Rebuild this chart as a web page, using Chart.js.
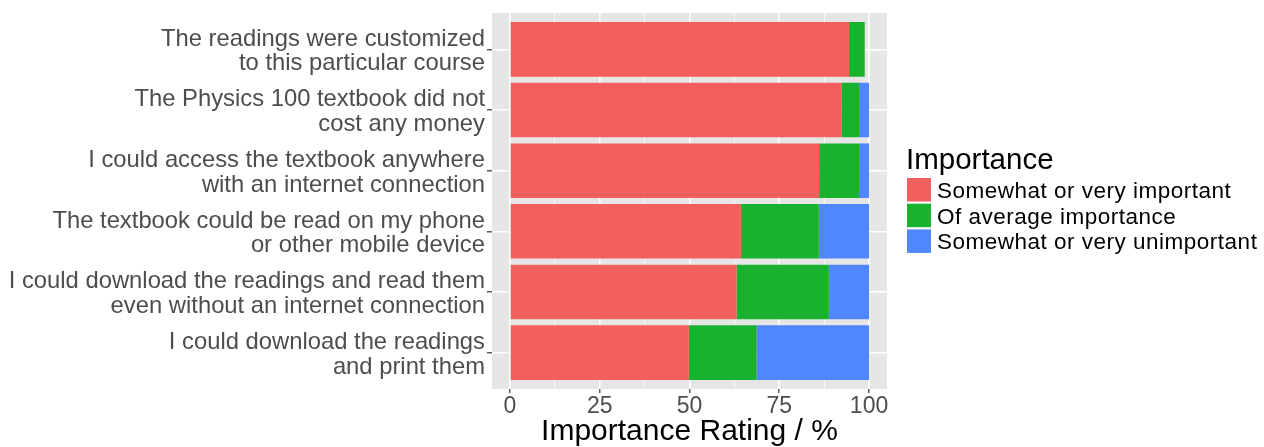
<!DOCTYPE html>
<html>
<head>
<meta charset="utf-8">
<script src="https://cdn.jsdelivr.net/npm/chart.js@4/dist/chart.umd.min.js"></script>
<style>
  html, body { margin: 0; padding: 0; background: #ffffff; }
  #wrap { position: relative; width: 1264px; height: 447px; }
</style>
</head>
<body>
<div id="wrap"><canvas id="c" width="1264" height="447"></canvas></div>
<script>
// ---- data (top to bottom as displayed) ----
const categories = [
  ["The readings were customized", "to this particular course"],
  ["The Physics 100 textbook did not", "cost any money"],
  ["I could access the textbook anywhere", "with an internet connection"],
  ["The textbook could be read on my phone", "or other mobile device"],
  ["I could download the readings and read them", "even without an internet connection"],
  ["I could download the readings", "and print them"]
];
const seriesNames = ["Somewhat or very important", "Of average importance", "Somewhat or very unimportant"];
const important   = [94.4, 92.3, 86.1, 64.3, 63.1, 49.8];
const average     = [4.4, 4.9, 11.1, 21.7, 25.7, 18.9];
const unimportant = [0.0, 2.8, 2.8, 14.0, 11.2, 31.3];
const xTicks = [0, 12.5, 25, 37.5, 50, 62.5, 75, 87.5, 100];
const xTickLabels = ["0", "", "25", "", "50", "", "75", "", "100"];
const legendTitle = "Importance";
const axisTitle = "Importance Rating / %";

const colors = ["#F25F5C", "#19B22F", "#5087FF"];
const seriesValues = [important, average, unimportant];

const FONT = "'Liberation Sans', Arial, Helvetica, sans-serif";

const datasets = seriesValues.map((vals, s) => ({
  label: seriesNames[s],
  data: vals.map((v, i) => ({ x: v, y: i + 1 })),
  backgroundColor: colors[s],
  borderWidth: 0,
  barPercentage: 0.9,
  categoryPercentage: 1.0
}));

const legendPlugin = {
  id: 'ggLegend',
  afterDraw(chart) {
    const ctx = chart.ctx;
    ctx.save();
    ctx.fillStyle = '#000000';
    ctx.textAlign = 'left';
    ctx.textBaseline = 'alphabetic';
    ctx.font = "29.5px " + FONT;
    ctx.fillText(legendTitle, 906, 168.5);
    for (let i = 0; i < seriesNames.length; i++) {
      const y = 178 + i * 25.7;
      ctx.fillStyle = colors[i];
      ctx.fillRect(907, y, 24, 23.5);
      ctx.fillStyle = '#000000';
      ctx.font = "22.5px " + FONT;
      if ('letterSpacing' in ctx) ctx.letterSpacing = '0.5px';
      ctx.fillText(seriesNames[i], 937, y + 20);
      if ('letterSpacing' in ctx) ctx.letterSpacing = '0px';
    }
    ctx.restore();
  }
};

const panelPlugin = {
  id: 'panelBg',
  beforeDraw(chart) {
    const a = chart.chartArea;
    const ctx = chart.ctx;
    ctx.save();
    ctx.fillStyle = '#E6E6E6';
    ctx.fillRect(a.left, a.top, a.right - a.left, a.bottom - a.top);
    ctx.restore();
  }
};

new Chart(document.getElementById('c'), {
  type: 'bar',
  data: { datasets },
  plugins: [panelPlugin, legendPlugin],
  options: {
    responsive: false,
    animation: false,
    indexAxis: 'y',
    layout: { padding: { top: 13, right: 377, left: 0, bottom: 0 } },
    plugins: { legend: { display: false }, tooltip: { enabled: false } },
    scales: {
      x: {
        type: 'linear',
        stacked: true,
        min: -5, max: 105,
        afterBuildTicks: s => { s.ticks = xTicks.map(v => ({ value: v })); },
        afterFit: s => { s.height = 58; s.paddingLeft = 0; s.paddingRight = 0; },
        border: { display: false },
        grid: {
          color: '#FFFFFF',
          lineWidth: ctx => (ctx.tick && ctx.tick.value % 25 === 0) ? 1.6 : 0.7,
          drawTicks: true,
          tickLength: 4,
          tickColor: ctx => (ctx.tick && ctx.tick.value % 25 === 0) ? '#333333' : 'rgba(0,0,0,0)',
          tickWidth: 1.2
        },
        ticks: {
          autoSkip: false,
          maxRotation: 0,
          padding: 0,
          color: '#4D4D4D',
          font: { family: FONT, size: 23 },
          callback: (v, i) => xTickLabels[i]
        },
        title: {
          display: true,
          text: axisTitle,
          color: '#000000',
          font: { family: FONT, size: 30 },
          padding: { top: 0, bottom: -3 }
        }
      },
      y: {
        type: 'linear',
        stacked: true,
        reverse: true,
        offset: false,
        min: 0.4, max: 6.6,
        afterBuildTicks: s => { s.ticks = categories.map((_, i) => ({ value: i + 1 })); },
        afterFit: s => { s.width = 492; s.paddingTop = 0; s.paddingBottom = 0; },
        border: { display: false },
        grid: {
          offset: false,
          color: '#FFFFFF',
          lineWidth: 1.6,
          drawTicks: true,
          tickLength: 5,
          tickColor: '#333333',
          tickWidth: 1.2
        },
        ticks: {
          autoSkip: false,
          padding: 2,
          labelOffset: 2,
          color: '#4D4D4D',
          font: { family: FONT, size: 23.8, lineHeight: 1.04 },
          callback: (v, i) => categories[i]
        }
      }
    }
  }
});
</script>
</body>
</html>
